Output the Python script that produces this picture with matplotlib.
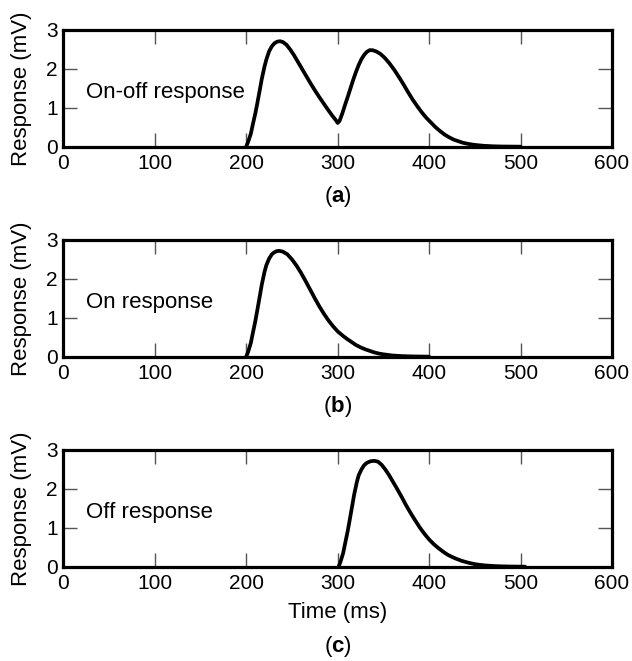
import matplotlib
matplotlib.use("Agg")
import matplotlib.pyplot as plt

plt.rcParams['font.family'] = ['Liberation Sans', 'DejaVu Sans']
plt.rcParams['mathtext.fontset'] = 'custom'
plt.rcParams['mathtext.rm'] = 'Liberation Sans'
plt.rcParams['mathtext.bf'] = 'Liberation Sans:bold'

# readings (time in ms, response in mV)
onoff_t = [200, 202, 205, 207, 210, 212, 215, 217, 220, 222, 225, 228, 231, 234, 237,
           240, 244, 248, 252, 256, 260, 265, 270, 275, 280, 285, 290, 294, 298, 300,
           302, 305, 308, 311, 314, 317, 320, 323, 326, 329, 332, 335, 338, 342, 347,
           352, 357, 362, 367, 372, 377, 382, 387, 392, 397, 402, 407, 412, 417, 422,
           427, 432, 437, 442, 447, 452, 460, 470, 480, 500]
onoff_v = [0.0, 0.12, 0.33, 0.55, 0.86, 1.10, 1.48, 1.74, 2.06, 2.24, 2.45, 2.58, 2.66, 2.70, 2.71,
           2.69, 2.62, 2.50, 2.36, 2.20, 2.04, 1.84, 1.64, 1.45, 1.27, 1.10, 0.93, 0.80, 0.68, 0.61,
           0.66, 0.85, 1.07, 1.28, 1.50, 1.72, 1.92, 2.10, 2.25, 2.36, 2.44, 2.48, 2.48, 2.45, 2.38,
           2.27, 2.13, 1.97, 1.79, 1.60, 1.40, 1.21, 1.04, 0.88, 0.74, 0.62, 0.50, 0.40, 0.31, 0.24,
           0.18, 0.14, 0.10, 0.075, 0.055, 0.04, 0.022, 0.01, 0.004, 0.0]

on_t = [200, 202, 205, 207, 210, 212, 215, 217, 220, 222, 225, 228, 230, 233, 236,
        240, 245, 250, 255, 260, 265, 270, 275, 280, 285, 290, 295, 300, 305, 310,
        315, 320, 325, 330, 335, 340, 345, 350, 355, 360, 370, 380, 400]
on_v = [0.0, 0.12, 0.35, 0.58, 0.92, 1.18, 1.58, 1.85, 2.18, 2.35, 2.52, 2.63, 2.67, 2.71, 2.72,
        2.70, 2.63, 2.50, 2.34, 2.15, 1.94, 1.72, 1.50, 1.29, 1.10, 0.93, 0.78, 0.65, 0.55, 0.46,
        0.38, 0.30, 0.24, 0.19, 0.15, 0.11, 0.08, 0.06, 0.045, 0.03, 0.015, 0.007, 0.0]

off_t = [301, 303, 306, 308, 311, 313, 316, 318, 321, 323, 326, 329, 332, 336, 340,
         344, 348, 352, 356, 360, 365, 370, 375, 380, 385, 390, 395, 400, 405, 410,
         415, 420, 425, 430, 435, 440, 445, 450, 455, 460, 470, 480, 490, 505]
off_v = [0.0, 0.12, 0.35, 0.58, 0.92, 1.18, 1.58, 1.85, 2.18, 2.35, 2.50, 2.61, 2.67, 2.71, 2.72,
         2.70, 2.62, 2.50, 2.36, 2.20, 2.00, 1.79, 1.57, 1.37, 1.18, 1.00, 0.84, 0.70, 0.58, 0.48,
         0.39, 0.31, 0.25, 0.20, 0.155, 0.12, 0.09, 0.065, 0.048, 0.034, 0.017, 0.008, 0.003, 0.0]

panels = [(onoff_t, onoff_v, 'On-off response', 'a'),
          (on_t, on_v, 'On response', 'b'),
          (off_t, off_v, 'Off response', 'c')]

x_ticks = [0, 100, 200, 300, 400, 500, 600]
y_ticks = [0, 1, 2, 3]

fig = plt.figure(figsize=(6.32, 6.61), dpi=100)
bottoms = [0.7781, 0.4604, 0.1427]

for (t, v, name, letter), b in zip(panels, bottoms):
    ax = fig.add_axes([0.1002, b, 0.8682, 0.1766])
    ax.plot(t, v, color='black', lw=2.7, clip_on=False,
            solid_capstyle='round', solid_joinstyle='round')
    ax.set_xlim(0, 600)
    ax.set_ylim(0, 3)
    ax.set_xticks(x_ticks)
    ax.set_yticks(y_ticks)
    ax.tick_params(direction='in', length=10, width=1, color='#555555',
                   top=True, right=True, labelsize=15, pad=4)
    ax.tick_params(axis='x', pad=5)
    for s in ax.spines.values():
        s.set_linewidth(2.3)
    ax.text(25, 1.4, name, fontsize=16, va='center', ha='left')
    ax.set_ylabel('Response (mV)', fontsize=16)
    ax.yaxis.set_label_coords(-0.057, 0.5)
    if letter == 'c':
        ax.set_xlabel('Time (ms)', fontsize=16, labelpad=7)
        ax.text(0.5, -0.68, r'($\mathbf{c}$)', transform=ax.transAxes,
                fontsize=16, ha='center', va='center')
    else:
        ax.text(0.5, -0.43, r'($\mathbf{' + letter + '}$)', transform=ax.transAxes,
                fontsize=16, ha='center', va='center')

fig.savefig('out.png', dpi=100)
